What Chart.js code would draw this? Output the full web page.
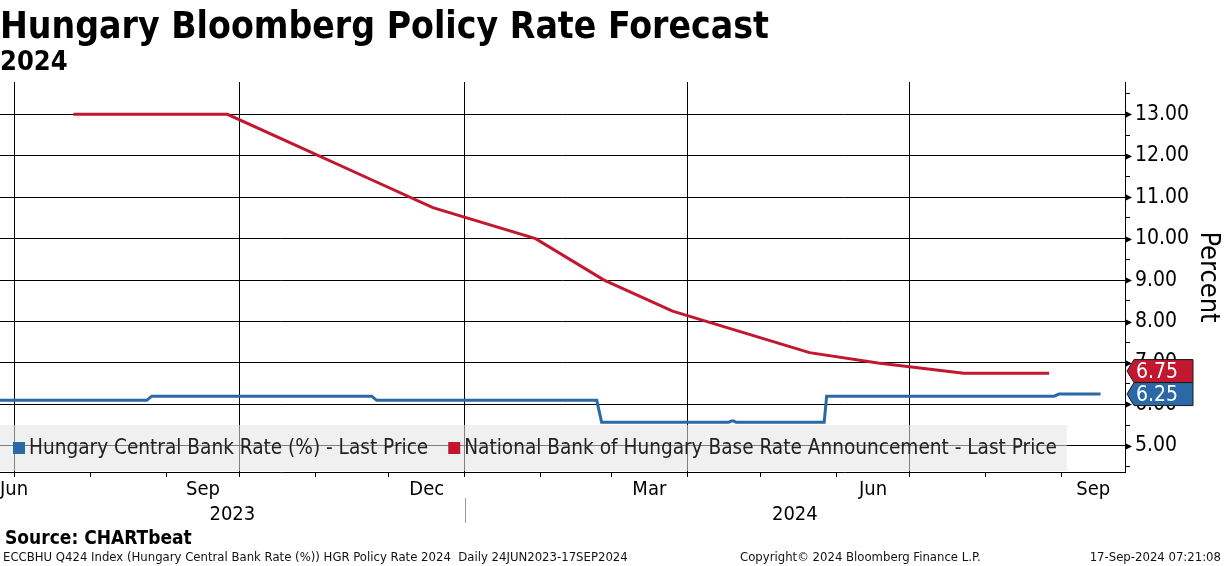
<!DOCTYPE html>
<html>
<head>
<meta charset="utf-8">
<script src="https://cdn.jsdelivr.net/npm/chart.js@4.4.1/dist/chart.umd.min.js"></script>
<style>
  html, body { margin: 0; padding: 0; background: #fff; }
  body { width: 1224px; height: 566px; position: relative; overflow: hidden;
         font-family: "DejaVu Sans Condensed", "DejaVu Sans", sans-serif; color: #000; }
  canvas { position: absolute; left: 0; top: 0; }
  .t { position: absolute; white-space: pre; }
  #title { left: 0; top: 4px; font-size: 37px; font-weight: bold; }
  #sub { left: 0; top: 45px; font-size: 27px; font-weight: bold; }
  #source { left: 5px; top: 526px; font-size: 19px; font-weight: bold; }
  .foot { top: 549px; font-size: 13px; color: #111; }
</style>
</head>
<body>
<canvas id="rateChart" width="1224" height="566"></canvas>
<div class="t" id="title">Hungary Bloomberg Policy Rate Forecast</div>
<div class="t" id="sub">2024</div>
<div class="t" id="source">Source: CHARTbeat</div>
<div class="t foot" style="left:3px">ECCBHU Q424 Index (Hungary Central Bank Rate (%)) HGR Policy Rate 2024  Daily 24JUN2023-17SEP2024</div>
<div class="t foot" style="left:740px">Copyright© 2024 Bloomberg Finance L.P.</div>
<div class="t foot" style="right:3px">17-Sep-2024 07:21:08</div>

<script>
const FONT = '"DejaVu Sans Condensed", "DejaVu Sans", sans-serif';
const BLUE = '#2b68a6';
const RED = '#c1172f';

const seriesNames = [
  'Hungary Central Bank Rate (%) - Last Price',
  'National Bank of Hungary Base Rate Announcement - Last Price'
];

// Hungary Central Bank Rate (%) - daily, only the change points
const cbDates = ['2023-06-24', '2023-08-24', '2023-08-26', '2023-11-24', '2023-11-26',
  '2024-02-24', '2024-02-26', '2024-04-18', '2024-04-19', '2024-04-20', '2024-04-21',
  '2024-05-27', '2024-05-28', '2024-08-29', '2024-08-31', '2024-09-17'];
const cbValues = [6.10, 6.10, 6.20, 6.20, 6.10,
  6.10, 5.57, 5.57, 5.60, 5.60, 5.57,
  5.57, 6.20, 6.20, 6.25, 6.25];

// NBH base rate announcements
const nbhDates = ['2023-07-25', '2023-08-22', '2023-09-26', '2023-10-24', '2023-11-21',
  '2023-12-19', '2024-01-30', '2024-02-27', '2024-03-26', '2024-04-23', '2024-05-21',
  '2024-06-18', '2024-07-23', '2024-08-27'];
const nbhValues = [13.00, 13.00, 13.00, 12.25, 11.50,
  10.75, 10.00, 9.00, 8.25, 7.75, 7.25,
  7.00, 6.75, 6.75];

const xStart = '2023-06-25';
const xEnd = '2024-09-27';
const monthStarts = ['2023-07-01', '2023-08-01', '2023-09-01', '2023-10-01', '2023-11-01',
  '2023-12-01', '2024-01-01', '2024-02-01', '2024-03-01', '2024-04-01', '2024-05-01',
  '2024-06-01', '2024-07-01', '2024-08-01', '2024-09-01'];
const quarterStarts = ['2023-07-01', '2023-10-01', '2024-01-01', '2024-04-01', '2024-07-01'];
const monthLabelStarts = ['2023-06-01', '2023-09-01', '2023-12-01', '2024-03-01', '2024-06-01', '2024-09-01'];
const monthLabels = ['Jun', 'Sep', 'Dec', 'Mar', 'Jun', 'Sep'];
const yearLabels = ['2023', '2024'];

const yMajor = [5, 6, 7, 8, 9, 10, 11, 12, 13];
const yMinor = [4.5, 5.5, 6.5, 7.5, 8.5, 9.5, 10.5, 11.5, 12.5, 13.5];

const toDay = (s) => {
  const [yy, mm, dd] = s.split('-').map(Number);
  return Date.UTC(yy, mm - 1, dd) / 864e5;
};
const pts = (dates, vals) => dates.map((d, i) => ({ x: toDay(d), y: vals[i] }));
const quarterDays = quarterStarts.map(toDay);

const decor = {
  id: 'decor',
  afterDraw(chart) {
    const { ctx, chartArea: a } = chart;
    const x = chart.scales.x, y = chart.scales.y;
    ctx.save();

    // legend box inside the plot
    ctx.font = `20.6px ${FONT}`;
    const w0 = ctx.measureText(seriesNames[0]).width;
    const w1 = ctx.measureText(seriesNames[1]).width;
    const lTop = a.bottom - 47;
    const boxW = 13 + 12 + 4 + w0 + 20 + 12 + 4 + w1 + 10;
    ctx.fillStyle = 'rgba(228,228,228,0.56)';
    ctx.fillRect(a.left, lTop, boxW, 46);
    ctx.textBaseline = 'middle';
    ctx.textAlign = 'left';
    let lx = a.left + 13;
    [[BLUE, seriesNames[0], w0], [RED, seriesNames[1], w1]].forEach(([c, name, w]) => {
      ctx.fillStyle = c;
      ctx.fillRect(lx, lTop + 17, 12, 12);
      lx += 16;
      ctx.fillStyle = '#222';
      ctx.fillText(name, lx, lTop + 24);
      lx += w + 20;
    });

    // month labels, centred on the visible part of the month
    ctx.font = `20px ${FONT}`;
    ctx.fillStyle = '#000';
    ctx.textBaseline = 'alphabetic';
    ctx.textAlign = 'center';
    monthLabelStarts.forEach((s, i) => {
      const [yy, mm] = s.split('-').map(Number);
      const p0 = Math.max(x.getPixelForValue(toDay(s)), a.left);
      const p1 = Math.min(x.getPixelForValue(Date.UTC(yy, mm, 1) / 864e5), a.right);
      const w = ctx.measureText(monthLabels[i]).width;
      const cx = Math.min(Math.max((p0 + p1) / 2, a.left + w / 2), a.right - w / 2);
      ctx.fillText(monthLabels[i], cx, a.bottom + 23);
    });

    // year labels and separators
    yearLabels.forEach((yr) => {
      const p0 = Math.max(x.getPixelForValue(toDay(yr + '-01-01')), a.left);
      const p1 = Math.min(x.getPixelForValue(toDay((+yr + 1) + '-01-01')), a.right);
      ctx.fillText(yr, (p0 + p1) / 2, a.bottom + 48);
      if (p0 > a.left) {
        ctx.strokeStyle = '#999';
        ctx.lineWidth = 1;
        ctx.beginPath();
        ctx.moveTo(Math.round(p0) + 0.5, a.bottom + 26);
        ctx.lineTo(Math.round(p0) + 0.5, a.bottom + 51);
        ctx.stroke();
      }
    });

    // arrow heads on major y ticks
    ctx.fillStyle = '#000';
    yMajor.forEach((v) => {
      const py = Math.round(y.getPixelForValue(v)) + 0.5;
      ctx.beginPath();
      ctx.moveTo(a.right, py - 3.5);
      ctx.lineTo(a.right + 7, py);
      ctx.lineTo(a.right, py + 3.5);
      ctx.closePath();
      ctx.fill();
    });

    // last value tags
    const tag = (cy, color, val) => {
      const l = a.right + 2, r = a.right + 68, h = 23;
      ctx.beginPath();
      ctx.moveTo(l, cy);
      ctx.lineTo(l + 7, cy - h / 2);
      ctx.lineTo(r, cy - h / 2);
      ctx.lineTo(r, cy + h / 2);
      ctx.lineTo(l + 7, cy + h / 2);
      ctx.closePath();
      ctx.fillStyle = color;
      ctx.fill();
      ctx.strokeStyle = '#1a1a1a';
      ctx.lineWidth = 1;
      ctx.stroke();
      ctx.fillStyle = '#fff';
      ctx.font = `21px ${FONT}`;
      ctx.textAlign = 'left';
      ctx.textBaseline = 'middle';
      ctx.fillText(val.toFixed(2), l + 9, cy + 1);
    };
    const lastCb = cbValues[cbValues.length - 1];
    const lastNbh = nbhValues[nbhValues.length - 1];
    const by = y.getPixelForValue(lastCb);
    const ry = Math.min(y.getPixelForValue(lastNbh), by - 23);
    tag(ry, RED, lastNbh);
    tag(by, BLUE, lastCb);

    ctx.restore();
  }
};

const ctx = document.getElementById('rateChart').getContext('2d');

const rateChart = new Chart(ctx, {
  type: 'line',
  data: {
    datasets: [
      {
        label: seriesNames[0],
        data: pts(cbDates, cbValues),
        borderColor: BLUE,
        borderWidth: 3,
        pointRadius: 0,
        tension: 0,
        fill: false
      },
      {
        label: seriesNames[1],
        data: pts(nbhDates, nbhValues),
        borderColor: RED,
        borderWidth: 3,
        pointRadius: 0,
        tension: 0,
        fill: false
      }
    ]
  },
  options: {
    responsive: false,
    animation: false,
    layout: { padding: { top: 82, left: 0, right: 0, bottom: 0 } },
    plugins: {
      legend: { display: false },
      tooltip: { enabled: false }
    },
    scales: {
      x: {
        type: 'linear',
        min: toDay(xStart),
        max: toDay(xEnd),
        afterBuildTicks: (s) => { s.ticks = monthStarts.map((d) => ({ value: toDay(d) })); },
        afterFit: (s) => { s.height = 94; },
        ticks: { display: false, autoSkip: false },
        grid: {
          color: (c) => quarterDays.includes(c.tick && c.tick.value) ? '#000' : 'rgba(0,0,0,0)',
          tickColor: '#000',
          tickLength: 5,
          lineWidth: 1
        },
        border: { color: '#000', width: 1 }
      },
      y: {
        position: 'right',
        min: 4.37,
        max: 13.78,
        afterBuildTicks: (s) => {
          s.ticks = yMajor.concat(yMinor).sort((p, q) => p - q).map((v) => ({ value: v }));
        },
        afterFit: (s) => { s.width = 99; },
        ticks: {
          color: '#000',
          padding: 5,
          autoSkip: false,
          font: { size: 21, family: FONT },
          callback: (v) => yMajor.includes(v) ? v.toFixed(2) : ''
        },
        grid: {
          color: (c) => yMajor.includes(c.tick && c.tick.value) ? '#000' : 'rgba(0,0,0,0)',
          tickColor: '#000',
          tickLength: 5,
          lineWidth: 1
        },
        border: { color: '#000', width: 1 },
        title: {
          display: true,
          text: 'Percent',
          color: '#000',
          font: { size: 27, family: FONT },
          padding: 0
        }
      }
    }
  },
  plugins: [decor]
});
</script>
</body>
</html>
